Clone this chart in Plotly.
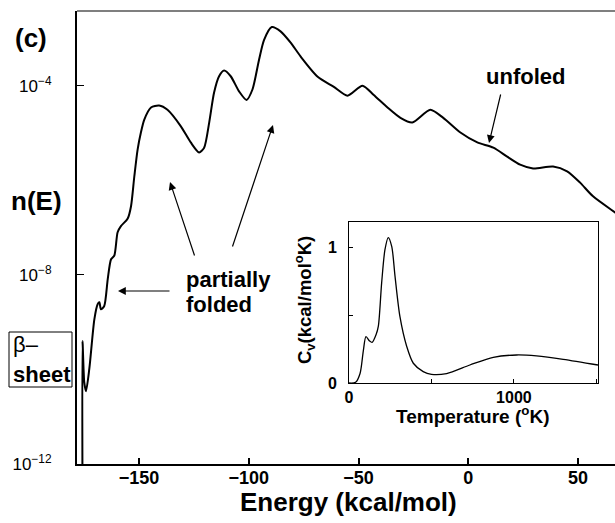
import numpy as np
import plotly.graph_objects as go

# ---------------- data ----------------
# main panel: density of states n(E), stored as log10 values
energy = [-175.7, -175.7, -174.9, -174.1, -172.6, -170.3, -168.8, -168.0, -167.3, -165.8,
          -164.2, -162.7, -161.2, -159.7, -158.2, -155.1, -153.6, -152.1, -150.6, -149.1,
          -147.6, -144.5, -140.8, -137.0, -130.9, -126.4, -122.6, -120.3, -118.0, -115.8,
          -113.5, -111.2, -108.2, -104.4, -101.0, -98.3, -95.3, -93.0, -89.5, -85.5,
          -80.9, -76.4, -68.6, -61.4, -55.0, -48.2, -43.2, -36.8, -30.9, -25.5,
          -17.3, -11.4, -3.6, 4.1, 11.4, 17.7, 23.6, 29.5, 38.6, 45.0,
          50.9, 56.8, 66.8, 71.4]
log10_n = [-12.5, -9.40, -10.27, -10.46, -9.99, -8.94, -8.62, -8.58, -8.73, -8.66,
           -8.09, -7.67, -7.59, -7.10, -6.97, -6.81, -6.55, -5.92, -5.35, -4.99,
           -4.72, -4.46, -4.42, -4.51, -4.86, -5.20, -5.41, -5.31, -4.78, -4.15,
           -3.80, -3.68, -3.80, -4.12, -4.30, -4.08, -3.45, -3.03, -2.76, -2.85,
           -3.09, -3.38, -3.81, -4.02, -4.21, -4.00, -4.19, -4.46, -4.68, -4.78,
           -4.51, -4.68, -4.99, -5.20, -5.31, -5.50, -5.67, -5.75, -5.71, -5.81,
           -6.05, -6.34, -6.68, -6.83]

x_ticks = [-150, -100, -50, 0, 50]
x_ticktext = ["\u2212150", "\u2212100", "\u221250", "0", "50"]
y_ticks = [1e-12, 1e-8, 1e-4]
y_ticktext = ["10<sup>\u221212</sup>", "10<sup>\u22128</sup>", "10<sup>\u22124</sup>"]

# inset: specific heat Cv(T)
temperature = [0, 40, 67, 87, 103, 125, 140, 165, 178, 198, 218, 238, 259, 279, 309,
               350, 390, 450, 500, 592, 733, 875, 1016, 1137, 1299, 1510]
cv = [0.0, 0.005, 0.07, 0.24, 0.343, 0.31, 0.30, 0.36, 0.42, 0.74, 0.985, 1.075, 1.01,
      0.79, 0.49, 0.27, 0.146, 0.084, 0.064, 0.07, 0.133, 0.19, 0.207, 0.20, 0.175, 0.133]
t_ticks = [0, 500, 1000, 1500]
t_ticktext = ["0", "", "1000", ""]
cv_ticks = [0, 0.5, 1]
cv_ticktext = ["0", "", "1"]

# ---------------- layout helpers ----------------
W, H = 615, 523
L_M, R_M, T_M, B_M = 77, 0, 11, 59
PW = W - L_M - R_M
PH = H - T_M - B_M


def px(x):
    return (x - L_M) / PW


def py(y):
    return (H - B_M - y) / PH


FONT = "Liberation Sans, Arial, Helvetica, sans-serif"

fig = go.Figure()
fig.add_trace(go.Scatter(x=energy, y=np.power(10.0, log10_n), mode="lines",
                         line=dict(color="black", width=2, shape="spline", smoothing=0.7),
                         showlegend=False, hoverinfo="skip"))
fig.add_trace(go.Scatter(x=temperature, y=cv, mode="lines", xaxis="x2", yaxis="y2",
                         line=dict(color="black", width=1.3, shape="spline", smoothing=0.8),
                         showlegend=False, hoverinfo="skip"))

fig.update_layout(
    width=W, height=H,
    margin=dict(l=L_M, r=R_M, t=T_M, b=B_M, pad=0),
    paper_bgcolor="white", plot_bgcolor="white",
    font=dict(family=FONT, color="black"),
    xaxis=dict(range=[-178.2, 66.8], tickvals=x_ticks, ticktext=x_ticktext,
               ticks="inside", ticklen=6, tickwidth=1.5, tickcolor="black",
               showline=True, linewidth=2, linecolor="black", mirror=False,
               showgrid=False, zeroline=False, ticklabelstandoff=-4,
               tickfont=dict(family=FONT, size=18, color="black", weight="bold")),
    yaxis=dict(type="log", range=[-12, -2.42], tickvals=y_ticks, ticktext=y_ticktext,
               ticks="inside", ticklen=7, tickwidth=1.2, tickcolor="black",
               showline=True, linewidth=2, linecolor="black", mirror=False,
               showgrid=False, zeroline=False, ticklabelstandoff=20,
               tickfont=dict(family=FONT, size=17, color="black")),
    xaxis2=dict(domain=[px(349), px(598)], anchor="y2", range=[0, 1510],
                tickvals=t_ticks, ticktext=t_ticktext, ticks="inside", ticklen=4,
                tickwidth=1, tickcolor="black", showline=True, linewidth=1,
                linecolor="black", mirror=True, showgrid=False, zeroline=False,
                ticklabelstandoff=0,
                tickfont=dict(family=FONT, size=16, color="black", weight="bold")),
    yaxis2=dict(domain=[py(383), py(222)], anchor="x2", range=[0, 1.19],
                tickvals=cv_ticks, ticktext=cv_ticktext, ticks="inside", ticklen=4,
                tickwidth=1, tickcolor="black", showline=True, linewidth=1,
                linecolor="black", mirror=True, showgrid=False, zeroline=False,
                ticklabelstandoff=8,
                tickfont=dict(family=FONT, size=16, color="black", weight="bold")),
)

# top frame line of the main panel
fig.add_shape(type="line", xref="paper", yref="paper", x0=0, x1=1, y0=1, y1=1,
              line=dict(color="#555555", width=1.5))
# beta-sheet box
fig.add_shape(type="rect", xref="paper", yref="paper", x0=px(9), x1=px(72),
              y0=py(387), y1=py(332), line=dict(color="black", width=1))


def label(text, x, y, size, bold=True, xanchor="center", angle=0):
    fig.add_annotation(text=text, x=px(x), y=py(y), xref="paper", yref="paper",
                       xanchor=xanchor, yanchor="middle", showarrow=False,
                       textangle=angle,
                       font=dict(family=FONT, size=size, color="black",
                                 weight="bold" if bold else "normal"))


label("(c)", 31, 38, 26)
label("n(E)", 36, 201, 26)
label("Energy (kcal/mol)", 348, 502, 26)
label("Temperature (<sup>o</sup>K)", 472, 415, 19)
label("C<sub>v</sub>(kcal/mol<sup>o</sup>K)", 305, 300, 18.5, angle=-90)
label("partially", 184, 280, 22, xanchor="left")
label("folded", 184, 304, 22, xanchor="left")
label("unfoled", 525, 77, 22)
label("\u03b2\u2013", 11, 344, 22, bold=False, xanchor="left")
label("sheet", 11, 374, 22, xanchor="left")

arrows = [((118, 291), (171, 291)), ((170, 182), (195, 257)),
          ((273, 125), (232, 248)), ((489, 143), (501, 93))]
for (hx, hy), (tx, ty) in arrows:
    fig.add_annotation(text="", x=px(hx), y=py(hy), xref="paper", yref="paper",
                       ax=tx - hx, ay=ty - hy, axref="pixel", ayref="pixel",
                       showarrow=True, arrowhead=2, arrowsize=1.3, arrowwidth=1.2,
                       arrowcolor="black")

fig.write_html("out.html")
